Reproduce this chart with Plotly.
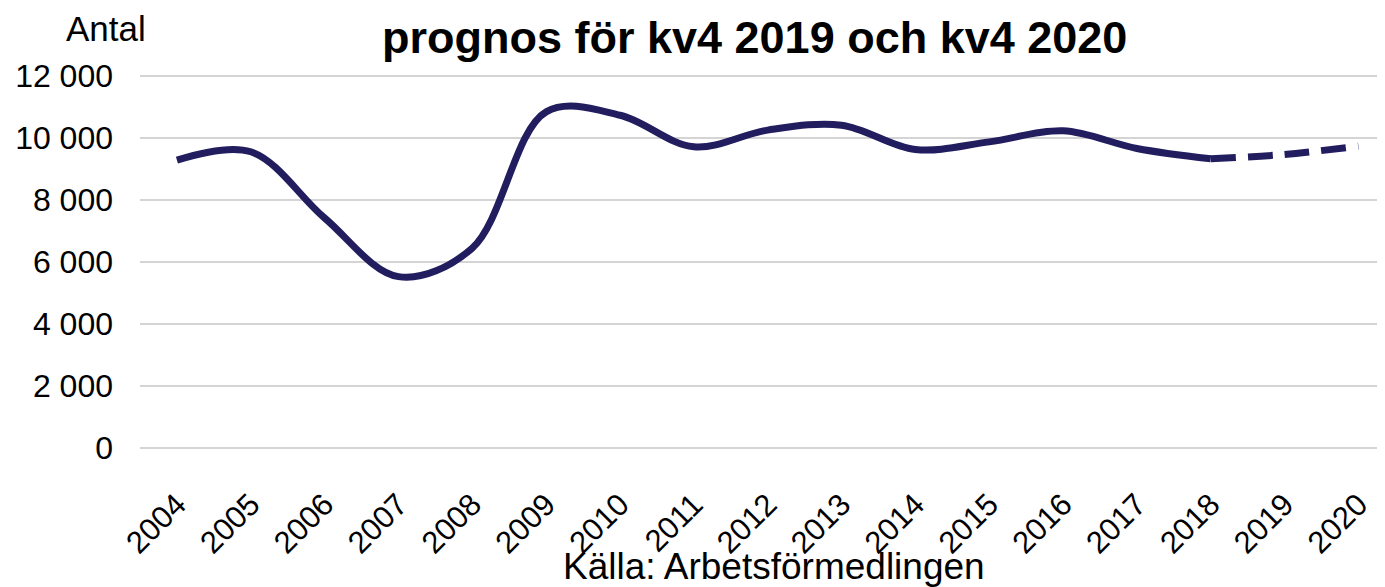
import plotly.graph_objects as go

years = list(range(2004, 2021))
year_labels = [str(y) for y in years]

hist_years = list(range(2004, 2019))
hist_values = [9290, 9560, 7420, 5527, 6450, 10850, 10740, 9720, 10260, 10420,
               9636, 9880, 10236, 9668, 9333]

fc_years = [2018, 2019, 2020]
fc_values = [9333, 9475, 9743]

y_ticks = [0, 2000, 4000, 6000, 8000, 10000, 12000]
y_tick_labels = ["0", "2 000", "4 000", "6 000", "8 000", "10 000", "12 000"]

title_text = "prognos för kv4 2019 och kv4 2020"
y_title = "Antal"
source_text = "Källa: Arbetsförmedlingen"

LINE_COLOR = "#211d5e"
FONT = "Liberation Sans, Arial, sans-serif"

fig = go.Figure()
fig.add_trace(go.Scatter(
    x=hist_years, y=hist_values, mode="lines",
    line=dict(color=LINE_COLOR, width=7, shape="spline", smoothing=1),
    showlegend=False, hoverinfo="skip",
))
fig.add_trace(go.Scatter(
    x=fc_years, y=fc_values, mode="lines",
    line=dict(color=LINE_COLOR, width=7, shape="spline", smoothing=1, dash="25px,12px"),
    showlegend=False, hoverinfo="skip",
))

# page body has an 8px default margin, so the figure is 8px smaller than the window
fig.update_layout(
    width=1377, height=579,
    margin=dict(l=132, r=0, t=67, b=138),
    paper_bgcolor="white", plot_bgcolor="white",
    font=dict(family=FONT, color="#000000"),
    xaxis=dict(
        range=[2003.5, 2020.36], automargin=False,
        tickmode="array", tickvals=years, ticktext=year_labels,
        tickangle=-45, tickfont=dict(size=31, family=FONT, color="#000000"),
        showgrid=False, zeroline=False, showline=False, ticks="",
        ticklabelstandoff=30,
    ),
    yaxis=dict(
        range=[-40, 12040], automargin=False,
        tickmode="array", tickvals=y_ticks, ticktext=y_tick_labels,
        tickfont=dict(size=32, family=FONT, color="#000000"),
        showgrid=True, gridcolor="#d4d4d4", gridwidth=1.5,
        zeroline=False, showline=False, ticks="",
        ticklabelstandoff=26,
    ),
    annotations=[
        dict(text="<b>" + title_text + "</b>", xref="paper", yref="paper",
             x=0.4932, y=1.10, xanchor="center", yanchor="middle",
             showarrow=False, font=dict(size=45, family=FONT, color="#000000")),
        dict(text=y_title, xref="paper", yref="paper",
             x=-0.0602, y=1.179, xanchor="left", yanchor="top", borderpad=0,
             showarrow=False, font=dict(size=35, family=FONT, color="#000000")),
        dict(text=source_text, xref="paper", yref="paper",
             x=0.338, y=-0.313, xanchor="left", yanchor="middle",
             showarrow=False, font=dict(size=37, family=FONT, color="#000000")),
    ],
)

fig.write_html("out.html")
